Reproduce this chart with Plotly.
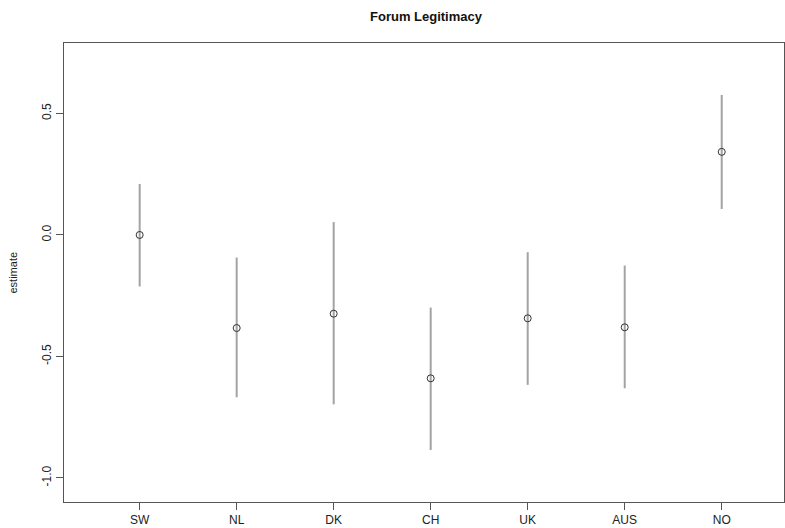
import plotly.graph_objects as go

countries = ["SW", "NL", "DK", "CH", "UK", "AUS", "NO"]
estimate = [0.0, -0.383, -0.324, -0.590, -0.343, -0.380, 0.342]
upper = [0.210, -0.093, 0.053, -0.299, -0.071, -0.126, 0.576]
lower = [-0.212, -0.668, -0.697, -0.885, -0.617, -0.631, 0.107]
y_ticks = [-1.0, -0.5, 0.0, 0.5]
y_tick_labels = ["-1.0", "-0.5", "0.0", "0.5"]

xpos = list(range(1, len(countries) + 1))
err_up = [u - e for u, e in zip(upper, estimate)]
err_dn = [e - l for e, l in zip(estimate, lower)]

FONT = "Liberation Sans, Arial, Helvetica, sans-serif"

W, H = 785, 528

fig = go.Figure()
fig.add_trace(go.Scatter(
    x=xpos, y=estimate, mode="markers",
    marker=dict(symbol="circle-open", size=7, color="#333333", line=dict(width=1, color="#333333")),
    error_y=dict(type="data", symmetric=False, array=err_up, arrayminus=err_dn,
                 color="#a3a3a3", thickness=2, width=0),
    showlegend=False, hoverinfo="skip",
))

fig.update_layout(
    width=W, height=H,
    margin=dict(l=64, r=1, t=43, b=26),
    paper_bgcolor="white", plot_bgcolor="white",
    font=dict(family=FONT, size=12, color="#222222"),
    title=dict(text="<b>Forum Legitimacy</b>", x=426 / W, xanchor="center",
               y=1 - 16 / H, yanchor="middle", font=dict(size=13, color="#111111")),
    xaxis=dict(range=[0.22, 7.642], tickmode="array", tickvals=xpos, ticktext=countries,
               showgrid=False, zeroline=False, showline=True, mirror=True,
               linecolor="#555555", linewidth=1, ticks="outside", ticklen=7,
               tickcolor="#555555", tickfont=dict(size=12)),
    yaxis=dict(range=[-1.099, 0.790], tickmode="array", tickvals=y_ticks, ticktext=y_tick_labels,
               tickangle=-90, showgrid=False, zeroline=False, showline=True, mirror=True,
               linecolor="#555555", linewidth=1, ticks="outside", ticklen=7,
               tickcolor="#555555", tickfont=dict(size=12)),
    annotations=[dict(text="estimate", xref="paper", yref="paper",
                      x=(12 - 64) / 720, y=0.5, xanchor="center", yanchor="middle",
                      textangle=-90, showarrow=False, font=dict(size=11, color="#222222"))],
)

fig.write_html(
    "out.html",
    config={"displayModeBar": False, "staticPlot": True},
    post_script="document.body.style.margin='0';document.body.style.overflow='hidden';"
                "document.documentElement.style.overflow='hidden';",
)
